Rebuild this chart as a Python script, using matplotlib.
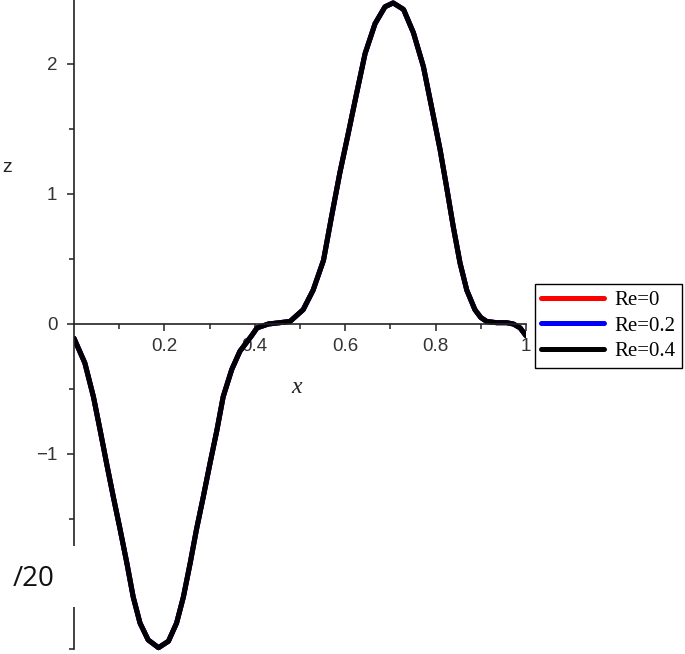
import numpy as np
import matplotlib
matplotlib.use("Agg")
import matplotlib.pyplot as plt
from matplotlib.patches import Rectangle

# values (all three Re curves coincide)
x_vals = [0.0, 0.024, 0.043, 0.058, 0.072, 0.087, 0.102, 0.117, 0.131, 0.146,
          0.164, 0.187, 0.209, 0.227, 0.242, 0.257, 0.271, 0.286, 0.301, 0.316,
          0.330, 0.349, 0.367, 0.380, 0.393, 0.405, 0.43, 0.455, 0.478, 0.507,
          0.529, 0.552, 0.570, 0.588, 0.607, 0.625, 0.644, 0.666, 0.688, 0.706,
          0.729, 0.751, 0.773, 0.791, 0.810, 0.824, 0.839, 0.854, 0.869, 0.887,
          0.900, 0.913, 0.935, 0.957, 0.972, 0.987, 1.0]
z_vals = [-0.11, -0.30, -0.56, -0.82, -1.07, -1.33, -1.58, -1.84, -2.10, -2.30,
          -2.43, -2.49, -2.44, -2.30, -2.10, -1.84, -1.58, -1.33, -1.07, -0.82,
          -0.56, -0.35, -0.21, -0.15, -0.09, -0.03, 0.0, 0.01, 0.02, 0.11,
          0.26, 0.49, 0.83, 1.16, 1.47, 1.77, 2.08, 2.31, 2.44, 2.47,
          2.42, 2.24, 1.98, 1.67, 1.34, 1.06, 0.75, 0.47, 0.26, 0.11,
          0.05, 0.02, 0.01, 0.01, 0.0, -0.03, -0.09]

series = ["Re=0", "Re=0.2", "Re=0.4"]
colors = ["red", "blue", "black"]

x_ticks = [0.2, 0.4, 0.6, 0.8, 1.0]
x_labels = ["0.2", "0.4", "0.6", "0.8", "1"]
y_ticks = [-2, -1, 0, 1, 2]
y_labels = ["", "\u22121", "0", "1", "2"]  # -2 is hidden under the white patch

fig = plt.figure(figsize=(6.85, 6.54), dpi=100)
ax = fig.add_axes([74 / 685, 0, 452 / 685, 1])

for name, c in zip(series, colors):
    ax.plot(x_vals, z_vals, color=c, lw=3.6, label=name,
            solid_joinstyle="round", solid_capstyle="round")

ax.set_xlim(0, 1)
ax.set_ylim(-330 / 130, 324 / 130)

# maple-style axes crossing at the origin
ax.spines["left"].set_position(("data", 0))
ax.spines["bottom"].set_position(("data", 0))
ax.spines["right"].set_visible(False)
ax.spines["top"].set_visible(False)
ax.spines["left"].set_bounds(-2.5, 324 / 130)
for s in ["left", "bottom"]:
    ax.spines[s].set_linewidth(1.2)
    ax.spines[s].set_color("#222222")

ax.set_xticks(x_ticks)
ax.set_xticklabels(x_labels)
ax.set_xticks([0.1, 0.3, 0.5, 0.7, 0.9], minor=True)
ax.set_yticks(y_ticks)
ax.set_yticklabels(y_labels)
ax.set_yticks([-2.5, -1.5, -0.5, 0.5, 1.5], minor=True)

ax.tick_params(which="major", direction="out", length=5, width=1.1,
               color="#222222", labelsize=13.5, labelcolor="#333333")
ax.tick_params(which="minor", direction="out", length=3.5, width=1.1,
               color="#222222")
ax.tick_params(axis="x", pad=5)
ax.tick_params(axis="y", pad=7)
for lbl in ax.get_xticklabels() + ax.get_yticklabels():
    lbl.set_family("Liberation Sans")

ax.patch.set_alpha(0)

fig.text(7 / 685, 1 - 168 / 654, "z", fontsize=14, ha="center", va="center",
         family="Liberation Sans", color="#222222")
ax.text(0.493, -0.485, "x", fontsize=17, style="italic", ha="center",
        va="center", family="Liberation Serif", color="#222222")

leg = ax.legend(loc="upper left", bbox_to_anchor=(535 / 685, 1 - 284 / 654),
                bbox_transform=fig.transFigure, borderaxespad=0,
                fancybox=False, framealpha=1, edgecolor="black",
                prop={"family": "Liberation Serif", "size": 15},
                handlelength=3.0, handletextpad=0.5, labelspacing=0.3,
                borderpad=0.3)
leg.get_frame().set_linewidth(1.0)
for line in leg.get_lines():
    line.set_linewidth(3.6)

# white patch hiding part of the axis, with the "/20" overlay
fig.patches.append(Rectangle((0, 1 - 607 / 654), 95 / 685, 61 / 654,
                             transform=fig.transFigure, facecolor="white",
                             edgecolor="none", zorder=5))
fig.text(34 / 685, 1 - 579 / 654, "/20", fontsize=20, ha="center",
         va="center", family="Open Sans", color="#111111", zorder=6)

fig.savefig("out.png", dpi=100)
